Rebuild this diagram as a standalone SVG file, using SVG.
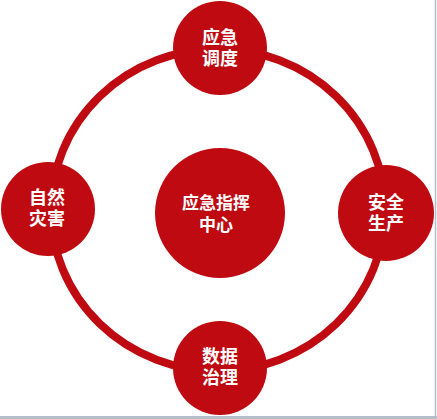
<svg xmlns="http://www.w3.org/2000/svg" width="437" height="419" viewBox="0 0 437 419">
<style>
.node{fill:#C00A12}
.lbl{fill:#FFFFFF;font-family:"Liberation Sans","Noto Sans CJK SC","Noto Sans CJK TC",sans-serif;font-weight:bold;font-size:18px;text-anchor:middle}
.lbl-c{font-size:17px}
.ring{fill:none;stroke:#C00A12;stroke-width:8}
</style>
<rect x="0" y="0" width="437" height="419" fill="#FFFFFF"/>
<g id="connectors">
<ellipse class="ring" cx="218" cy="210" rx="167" ry="161"/>
</g>
<g id="node-top">
<circle class="node" cx="220" cy="48" r="47"/>
<text class="lbl" x="220" y="44">应急</text>
<text class="lbl" x="220" y="65">调度</text>
</g>
<g id="node-left">
<circle class="node" cx="48" cy="209" r="47"/>
<text class="lbl" x="47" y="204">自然</text>
<text class="lbl" x="47" y="225">灾害</text>
</g>
<g id="node-right">
<circle class="node" cx="386" cy="213" r="48"/>
<text class="lbl" x="386" y="209">安全</text>
<text class="lbl" x="386" y="230">生产</text>
</g>
<g id="node-bottom">
<circle class="node" cx="220" cy="368" r="47"/>
<text class="lbl" x="220" y="363">数据</text>
<text class="lbl" x="220" y="384">治理</text>
</g>
<g id="node-center">
<circle class="node" cx="220" cy="213" r="65"/>
<text class="lbl lbl-c" x="216" y="209">应急指挥</text>
<text class="lbl lbl-c" x="216" y="231">中心</text>
</g>
<g id="frame">
<line x1="435.5" y1="0" x2="435.5" y2="419" stroke="#B4BEC8" stroke-width="1.5"/>
<line x1="0" y1="417.5" x2="437" y2="417.5" stroke="#B4BEC8" stroke-width="3"/>
</g>
</svg>
